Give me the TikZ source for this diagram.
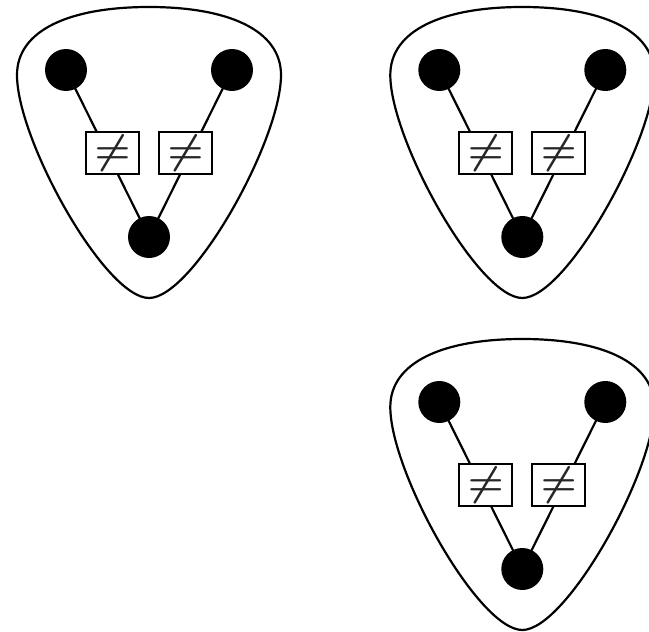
\RequirePackage{fix-cm}
\documentclass[tikz,border=0pt]{standalone}
\begin{document}
\begin{tikzpicture}[x=1pt,y=-1pt,
  dot/.style={circle,fill=black,minimum size=42pt,inner sep=0pt},
  neqbox/.style={draw=black,line width=1.8pt,fill=white,minimum width=53pt,minimum height=42pt,inner sep=0pt,text=black!85,
     font=\fontsize{41}{41}\selectfont\boldmath},
  link/.style={line width=2.2pt},
  pick/.style={line width=2.2pt}]
\useasboundingbox (0,0) rectangle (649,632);
\foreach \n/\dx/\dy in {1/0/0,2/373.3/0,3/373.3/332}{
  \begin{scope}[shift={(\dx,\dy)}]
    \draw[pick] (149,7) .. controls (70,7) and (17,30) .. (17,75)
       .. controls (17,140) and (105,298) .. (149,298)
       .. controls (193,298) and (281,140) .. (281,75)
       .. controls (281,30) and (228,7) .. (149,7) -- cycle;
    \node[dot] (l\n) at (66,70) {};
    \node[dot] (r\n) at (232,70) {};
    \node[dot] (b\n) at (149,237) {};
    \draw[link] (l\n.center) -- (b\n.center);
    \draw[link] (r\n.center) -- (b\n.center);
    \node[neqbox] (p\n) at (112.5,153) {$\neq$};
    \node[neqbox] (q\n) at (185.5,153) {$\neq$};
  \end{scope}
}
\end{tikzpicture}
\end{document}
